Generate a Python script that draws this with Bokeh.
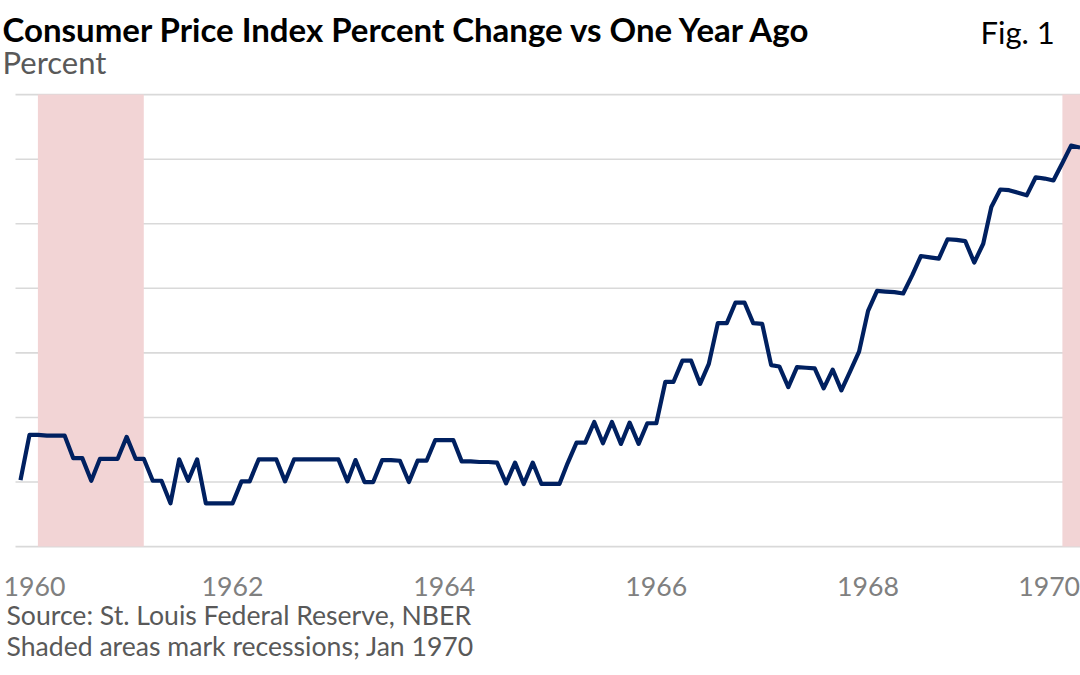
from datetime import datetime, timedelta

from bokeh.plotting import figure
from bokeh.models import Range1d, Label, ColumnDataSource
from bokeh.core.properties import value
from bokeh.embed import file_html
from bokeh.resources import INLINE

# ---------------- data ----------------
title_text = "Consumer Price Index Percent Change vs One Year Ago"
subtitle_text = "Percent"
fig_text = "Fig. 1"
source_text = "Source: St. Louis Federal Reserve, NBER"
note_text = "Shaded areas mark recessions; Jan 1970"

# CPI, percent change vs one year ago, monthly Jan 1960 .. Jan 1970
cpi_yoy = [
    1.03, 1.73, 1.73, 1.72, 1.72, 1.72, 1.37, 1.37, 1.02, 1.36, 1.36, 1.36,   # 1960
    1.70, 1.36, 1.36, 1.02, 1.02, 0.67, 1.35, 1.02, 1.35, 0.67, 0.67, 0.67,   # 1961
    0.67, 1.01, 1.01, 1.35, 1.35, 1.35, 1.01, 1.35, 1.35, 1.35, 1.35, 1.35,   # 1962
    1.35, 1.01, 1.34, 1.00, 1.00, 1.34, 1.34, 1.33, 1.00, 1.33, 1.33, 1.65,   # 1963
    1.65, 1.65, 1.32, 1.32, 1.31, 1.31, 1.30, 0.98, 1.30, 0.97, 1.30, 0.97,   # 1964
    0.97, 0.97, 1.29, 1.61, 1.61, 1.93, 1.60, 1.93, 1.59, 1.92, 1.59, 1.91,   # 1965
    1.91, 2.55, 2.55, 2.88, 2.88, 2.52, 2.83, 3.46, 3.46, 3.78, 3.78, 3.46,   # 1966
    3.45, 2.81, 2.79, 2.47, 2.78, 2.77, 2.76, 2.45, 2.74, 2.42, 2.72, 3.02,   # 1967
    3.65, 3.96, 3.95, 3.94, 3.92, 4.20, 4.50, 4.48, 4.46, 4.76, 4.75, 4.73,   # 1968
    4.40, 4.69, 5.26, 5.53, 5.52, 5.48, 5.44, 5.72, 5.70, 5.67, 5.94, 6.21,   # 1969
    6.18,                                                                     # 1970
]
dates = [datetime(1960 + i // 12, i % 12 + 1, 1) for i in range(len(cpi_yoy))]

recession_start = [datetime(1960, 3, 1), datetime(1969, 11, 1)]
recession_end = [datetime(1961, 3, 1), datetime(1970, 6, 1)]

tick_years = [1960, 1962, 1964, 1966, 1968, 1970]
tick_labels = [str(y) for y in tick_years]
y_grid_values = [0, 1, 2, 3, 4, 5, 6, 7]

# ---------------- layout (page pixels) ----------------
W, H = 1080, 675
X_JAN1960 = 20.0            # page x of 1 Jan 1960
PX_PER_DAY = 1059.6 / 3653.0
Y_ZERO = 546.1              # page y of 0 %
PX_PER_PCT = 64.57
GRID_LEFT = 15
BASELINE_FIX = 0.42         # empirical shift of rendered baseline, in em

epoch = datetime(1970, 1, 1)


def to_ms(d):
    return (d - epoch).total_seconds() * 1000.0


x_start = datetime(1960, 1, 1) - timedelta(days=X_JAN1960 / PX_PER_DAY)
x_end = datetime(1960, 1, 1) + timedelta(days=(W - X_JAN1960) / PX_PER_DAY)
y_start = -(H - Y_ZERO) / PX_PER_PCT
y_end = Y_ZERO / PX_PER_PCT


def px_x(X):
    t0, t1 = to_ms(x_start), to_ms(x_end)
    return t0 + X / W * (t1 - t0)


def px_y(Y):
    return y_start + (H - Y) / H * (y_end - y_start)


def baseline_y(Y, size_px):
    return px_y(Y - BASELINE_FIX * size_px)


p = figure(
    width=W, height=H,
    x_axis_type="datetime",
    x_range=Range1d(x_start, x_end),
    y_range=Range1d(y_start, y_end),
    x_axis_location=None, y_axis_location=None,
    output_backend="svg",
    toolbar_location=None,
    min_border=0,
    styles={"position": "absolute", "left": "0px", "top": "0px"},
)
p.outline_line_color = None
p.background_fill_color = "white"
p.border_fill_color = "white"
p.xgrid.visible = False
p.ygrid.visible = False

# horizontal gridlines
p.segment(x0=px_x(GRID_LEFT), x1=to_ms(x_end), y0=y_grid_values, y1=y_grid_values,
          line_color="#d9d9d9", line_width=1.6)

# recession shading
p.quad(left=recession_start, right=recession_end,
       bottom=y_grid_values[0], top=y_grid_values[-1],
       fill_color="#f2d4d5", line_color=None)

# series
p.line(dates, cpi_yoy, line_color="#002060", line_width=4.2, line_join="round")

# x tick labels (edge labels kept inside the canvas)
TICK_SIZE = 26.7
tick_src = ColumnDataSource(dict(
    x=[datetime(y, 1, 1) for y in tick_years],
    text=tick_labels,
    align=["left"] + ["center"] * (len(tick_years) - 2) + ["right"],
    dx=[-17] + [0] * (len(tick_years) - 1),
))
p.text(x="x", y=baseline_y(597, TICK_SIZE), text="text", source=tick_src,
       text_align="align", x_offset="dx",
       text_baseline="alphabetic", text_font=value("Lato"),
       text_font_size=f"{TICK_SIZE}px", text_color="#808080")


# ---------------- texts ----------------
def add_text(text, X, Y, size, color, align="left", style="normal"):
    p.add_layout(Label(x=px_x(X), y=baseline_y(Y, size), text=text, text_font="Lato",
                       text_font_size=f"{size}px", text_color=color, text_align=align,
                       text_baseline="alphabetic", text_font_style=style))


add_text(title_text, 2, 42, 33.0, "#000000", style="bold")
add_text(subtitle_text, 2, 75, 31.0, "#595959")
add_text(fig_text, 980, 45, 31.0, "#000000")
add_text(source_text, 6, 626, 26.6, "#595959")
add_text(note_text, 6, 657, 26.6, "#595959")

open("out.html", "w").write(file_html(p, INLINE))
